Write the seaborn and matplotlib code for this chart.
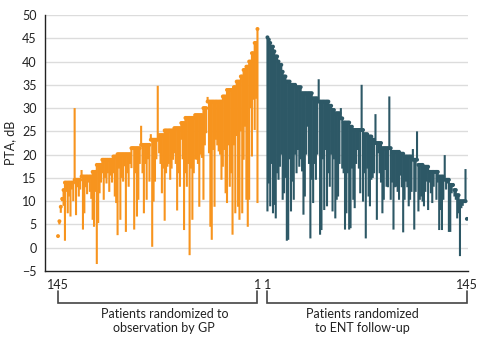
import numpy as np
import pandas as pd
import matplotlib
matplotlib.use("Agg")
import matplotlib.pyplot as plt
import matplotlib.transforms as mtransforms
import seaborn as sns

# GP arm, listed left to right (rank 145 -> rank 1)
gp_baseline = [
    2.5, 5.7, 8.8, 10.5, 12.4, 14, 14, 14, 14, 14,
    14, 14, 14.6, 14.6, 14.6, 14.6, 14.6, 15.3, 15.3, 15.3,
    15.3, 15.3, 15.3, 15.3, 15.3, 16.3, 16.3, 16.3, 17.8, 17.8,
    17.8, 17.8, 18.9, 18.9, 18.9, 18.9, 18.9, 18.9, 18.9, 18.9,
    19.6, 19.6, 19.6, 20.1, 20.1, 20.1, 20.1, 20.1, 20.1, 20.1,
    20.1, 20.1, 20.1, 21.4, 21.4, 21.4, 21.4, 21.4, 21.4, 21.4,
    22.1, 22.1, 22.1, 22.1, 22.1, 22.1, 22.1, 23.2, 23.2, 23.2,
    23.2, 23.2, 23.2, 24.2, 24.2, 24.2, 24.2, 25.2, 25.2, 25.2,
    25.2, 25.2, 25.2, 25.2, 25.7, 25.7, 25.7, 25.7, 25.7, 26.8,
    26.8, 26.8, 27.9, 27.9, 27.9, 27.9, 27.9, 27.9, 27.9, 28.5,
    28.5, 28.5, 28.5, 28.5, 28.5, 30, 30, 30, 31.4, 31.4,
    31.4, 31.4, 31.4, 31.4, 31.4, 31.4, 31.4, 31.4, 31.4, 32.5,
    32.5, 32.5, 33.9, 33.9, 33.9, 33.9, 33.9, 34.5, 34.5, 35.7,
    35.7, 35.7, 36.8, 36.8, 38.2, 38.2, 38.9, 38.9, 40, 40,
    41.8, 41.8, 44, 44, 47,
]
gp_followup = [
    2.5, 5.0, 7.5, 10, 9, 1.5, 12, 7.4, 11, 6.7,
    12.5, 10, 30, 7.0, 13, 11, 12.5, 16.7, 3.9, 7.4,
    13, 11.5, 14, 12, 10.5, 6.0, 4.5, 12, -3.5, 5.3,
    11.7, 14, 16, 10.3, 15, 13.8, 16, 12, 15.5, 14,
    16, 11, 9.6, 2.7, 17, 6.0, 15, 14.2, 17.5, 3.4,
    16, 13.1, 18, 17.1, 21.7, 3.9, 16, 6.7, 10.3, 18,
    26.2, 16, 7.4, 18, 10.3, 19, 14.2, 24.4, 0.2, 9.9,
    14.2, 19, 34.8, 20.3, 18, 11.7, 17, 5.8, 16, 17.4,
    18, 14.6, 17, 18.9, 20.3, 18, 8.0, 16, 13.1, 23.2,
    19, 3.8, 16, 13.1, 18, -1.6, 17, 6.0, 16, 19,
    18.9, 18, 8.8, 20, 19.3, 10.3, 22, 24.6, 32.4, 20.3,
    4.5, 1.7, 21, 8.8, 23.2, 22, 20.7, 20, 14.6, 17.4,
    21, 11.7, 9.6, 22, 13.1, 16, 2.8, 22, 7.4, 24,
    8.8, 6.0, 25, 7.4, 18.9, 26, 10.3, 4.5, 10.3, 30,
    19.6, 31.8, 25.3, 32, 9.6,
]

# ENT arm, listed in rank order (rank 1 -> rank 145)
ent_baseline = [
    45.2, 44.7, 44, 43.2, 43.2, 42.2, 41.1, 41.1, 40, 39.3,
    39.3, 37.8, 36.8, 36.8, 35.7, 35.7, 35.7, 35, 35, 35,
    35, 34.5, 34.5, 34.5, 34.5, 33.2, 33.2, 33.2, 33.2, 33.2,
    33.2, 33.2, 33.2, 32.1, 32.1, 32.1, 32.1, 31.4, 31.4, 31.4,
    31.4, 31.4, 31.4, 31.4, 31.4, 30.5, 30.5, 29.6, 29.6, 28.9,
    28.9, 28.9, 28.9, 27.8, 27.8, 26.9, 26.9, 26.9, 26.9, 26.9,
    26, 26, 25.3, 25.3, 25.3, 25.3, 25.3, 25.3, 25.3, 25.3,
    24.4, 24.4, 24.4, 23.9, 23.9, 23.9, 23.2, 23.2, 22.5, 22.5,
    22.5, 22.5, 22.5, 21.4, 21.4, 21.4, 21.4, 21.4, 21.4, 21.4,
    20.6, 20.6, 20.6, 20.6, 20.6, 20.6, 20.2, 20.2, 20.2, 19.6,
    19.6, 19.6, 19.6, 19.6, 19.6, 18.9, 18.9, 18.9, 18.9, 17.8,
    17.8, 17.8, 17.8, 17.4, 17.4, 17.4, 17.4, 16.3, 16.3, 16.3,
    16.3, 16.3, 16.3, 16.3, 15.3, 15.3, 15.3, 15.3, 14.6, 14.6,
    14.6, 14.6, 13.5, 13.5, 13.5, 12.4, 12.4, 11.3, 11.3, 10,
    10, 10, 10, 10, 6.2,
]
ent_followup = [
    7.8, 13.8, 8.9, 18, 7.4, 9.2, 6.3, 16, 14.6, 17.4,
    20, 10.3, 11.7, 15, 1.5, 1.7, 19, 7.8, 14.2, 10.3,
    20, 16, 21, 17.4, 19, 16.4, 7.1, 11, 20, 26,
    18, 2.0, 14.6, 9.6, 18, 14.6, 20, 36.2, 2.8, 3.8,
    19, 8.1, 21, 8.9, 16, 13.1, 20, 7.8, 19, 6.3,
    10.3, 11, 18, 30, 17, 16, 3.9, 7.4, 16, 3.9,
    4.2, 17, 10.3, 8.5, 18, 21, 17, 11.7, 35, 9.9,
    16, 2.0, 17, 11, 8.9, 14.6, 15, 16, 28.7, 6.0,
    20.3, 16, 14, 7.4, 10.3, 16.7, 13.1, 13, 32.5, 10.3,
    14, 3.9, 13, 13.1, 12, 10.3, 15.5, 13, 3.3, 10.3,
    14.2, 13, 8.9, 10.3, 12, 21.2, 3.9, 12, 25, 7.8,
    10.3, 11, 9.9, 8.9, 12, 14.2, 8.1, 14, 11.7, 9.6,
    13.1, 16, 10.3, 14, 3.8, 8.1, 3.8, 10.3, 19.9, 12.5,
    13.8, 3.4, 3.4, 11.7, 13.1, 11, 10.3, 6.3, 7.4, -1.8,
    8.5, 9, 10.3, 16.9, 6.2,
]

x_tick_labels = ["145", "1", "1", "145"]
y_ticks = [-5, 0, 5, 10, 15, 20, 25, 30, 35, 40, 45, 50]
gp_label = "Patients randomized to\nobservation by GP"
ent_label = "Patients randomized\nto ENT follow-up"

ORANGE = "#F7941E"
TEAL = "#2D5866"
GAP = 7.2

n_gp = len(gp_baseline)
n_ent = len(ent_baseline)
gp_pos = np.arange(n_gp, dtype=float)
ent_pos = (n_gp - 1) + GAP + np.arange(n_ent, dtype=float)

df = pd.concat([
    pd.DataFrame({"pos": gp_pos, "baseline": gp_baseline, "followup": gp_followup, "arm": "GP"}),
    pd.DataFrame({"pos": ent_pos, "baseline": ent_baseline, "followup": ent_followup, "arm": "ENT"}),
], ignore_index=True)

sns.set_theme(style="white")
plt.rcParams["font.family"] = ["Lato", "DejaVu Sans"]
FS = 9

fig = plt.figure(figsize=(4.90, 3.43), dpi=100)
ax = fig.add_axes([45 / 490, 1 - 271 / 343, 423 / 490, 256 / 343])

for y in y_ticks[1:]:
    ax.axhline(y, color="#dcdcdc", lw=1.0, zorder=0)

palette = {"GP": ORANGE, "ENT": TEAL}
for arm, sub in df.groupby("arm"):
    lc = ax.vlines(sub["pos"], sub["baseline"], sub["followup"], color=palette[arm], lw=1.5, zorder=2)
    lc.set_snap(False)

sns.scatterplot(data=df, x="pos", y="baseline", hue="arm", palette=palette,
                s=8, linewidth=0, legend=False, ax=ax, zorder=3)

ax.set_ylim(-5, 50)
ax.set_xlim(-9.4, ent_pos[-1] + 0.8)
ax.set_yticks(y_ticks)
ax.set_yticklabels([str(v).replace("-", "\u2212") for v in y_ticks], fontsize=FS, color="#222222")
ax.set_xticks([gp_pos[0], gp_pos[-1], ent_pos[0], ent_pos[-1]])
ax.set_xticklabels(x_tick_labels, fontsize=FS, color="#222222")
ax.set_xlabel("")
ax.set_ylabel("PTA, dB", fontsize=FS, color="#222222", labelpad=4)
ax.tick_params(axis="both", direction="out", length=4, width=1, color="#222222", pad=2)

for s in ["top", "right"]:
    ax.spines[s].set_visible(False)
for s in ["left", "bottom"]:
    ax.spines[s].set_color("#222222")
    ax.spines[s].set_linewidth(1.0)

# brackets under the axis
trans = mtransforms.blended_transform_factory(ax.transData, fig.transFigure)
y_top = 1 - 291 / 343
y_bot = 1 - 303 / 343
for x0, x1 in [(gp_pos[0], gp_pos[-1]), (ent_pos[0], ent_pos[-1])]:
    ax.plot([x0, x0, x1, x1], [y_top, y_bot, y_bot, y_top], transform=trans,
            color="#444444", lw=1.2, clip_on=False, solid_joinstyle="miter")

ax.text((164 - 58) / 1.382, 1 - 308 / 343, gp_label, transform=trans, ha="center", va="top",
        fontsize=FS, color="#222222", linespacing=1.2)
ax.text((362 - 58) / 1.382, 1 - 308 / 343, ent_label, transform=trans, ha="center", va="top",
        fontsize=FS, color="#222222", linespacing=1.2)

fig.savefig("out.png", dpi=100)
